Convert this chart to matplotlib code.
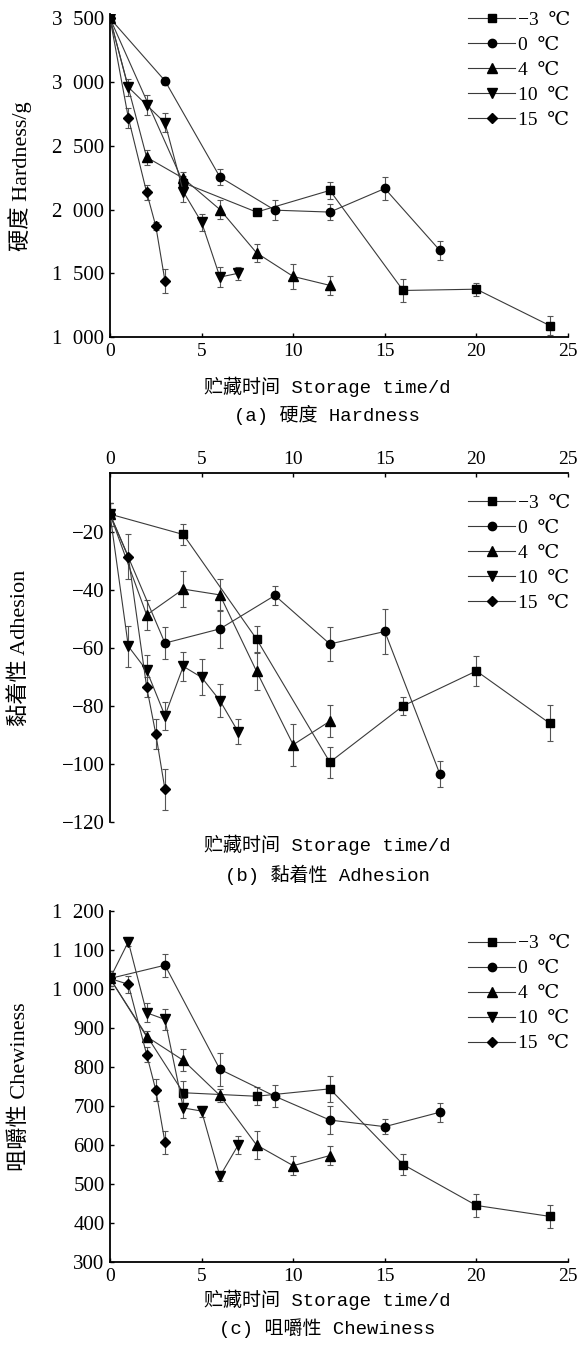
import matplotlib
matplotlib.use("Agg")
import matplotlib.pyplot as plt

# ---------------- data ----------------
temps = ["−3  ℃", "0  ℃", "4  ℃", "10  ℃", "15  ℃"]
markers = ["s", "o", "^", "v", "D"]
msizes = [5.5, 6.0, 6.5, 6.5, 5.0]

days_m3 = [0, 4, 8, 12, 16, 20, 24]
days_0 = [0, 3, 6, 9, 12, 15, 18]
days_4 = [0, 2, 4, 6, 8, 10, 12]
days_10 = [0, 1, 2, 3, 4, 5, 6, 7]
days_15 = [0, 1, 2, 2.5, 3]
days = [days_m3, days_0, days_4, days_10, days_15]

# (a) Hardness / g
hard_m3 = [3500, 2210, 1980, 2150, 1365, 1375, 1090]
hard_0 = [3500, 3010, 2255, 1995, 1980, 2165, 1680]
hard_4 = [3500, 2410, 2245, 2000, 1660, 1475, 1405]
hard_10 = [3500, 2960, 2820, 2680, 2140, 1900, 1470, 1500]
hard_15 = [3500, 2720, 2135, 1870, 1440]
hard_err_m3 = [25, 50, 15, 65, 88, 52, 75]
hard_err_0 = [25, 31, 60, 79, 65, 92, 73]
hard_err_4 = [25, 60, 47, 72, 68, 97, 76]
hard_err_10 = [25, 66, 76, 75, 80, 68, 80, 52]
hard_err_15 = [25, 79, 58, 33, 92]

# (b) Adhesion
adh_m3 = [-14, -21, -57, -99.4, -80, -68, -86]
adh_0 = [-14, -58.4, -53.5, -42, -58.7, -54.4, -103.4]
adh_4 = [-14, -48.7, -39.8, -41.8, -68.1, -93.4, -85.3]
adh_10 = [-14, -59.5, -67.8, -83.4, -66.4, -70.2, -78.2, -89]
adh_15 = [-14, -28.6, -73.5, -89.7, -108.8]
adh_err_m3 = [4, 3.5, 4.4, 5.3, 3, 5.2, 6.2]
adh_err_0 = [4, 5.6, 6.6, 3.4, 5.7, 7.8, 4.5]
adh_err_4 = [4, 5.2, 6.3, 5.5, 6.3, 7.3, 5.5]
adh_err_10 = [4, 7.1, 5.2, 4.8, 5.1, 6.2, 5.6, 4.3]
adh_err_15 = [4, 7.6, 3.3, 5.2, 7.1]

# (c) Chewiness
chew_m3 = [1027, 734, 725, 744, 550, 445, 417]
chew_0 = [1027, 1061, 794, 725, 664, 647, 684]
chew_4 = [1027, 878, 817, 727, 600, 547, 573]
chew_10 = [1027, 1121, 939, 922, 695, 687, 520, 600]
chew_15 = [1027, 1012, 832, 741, 607]
chew_err_m3 = [20, 30, 23, 34, 26, 30, 29]
chew_err_0 = [20, 30, 43, 28, 36, 19, 24]
chew_err_4 = [20, 15, 28, 17, 37, 24, 24]
chew_err_10 = [20, 12, 24, 27, 26, 14, 13, 22]
chew_err_15 = [20, 21, 20, 28, 30]

x_ticks = [0, 5, 10, 15, 20, 25]
hard_ticks = [1000, 1500, 2000, 2500, 3000, 3500]
hard_ticklabels = ["1\u2002000", "1\u2002500", "2\u2002000", "2\u2002500", "3\u2002000", "3\u2002500"]
adh_ticks = [-20, -40, -60, -80, -100, -120]
adh_ticklabels = ["−20", "−40", "−60", "−80", "−100", "−120"]
chew_ticks = [300, 400, 500, 600, 700, 800, 900, 1000, 1100, 1200]
chew_ticklabels = ["300", "400", "500", "600", "700", "800", "900",
                   "1\u2002000", "1\u2002100", "1\u2002200"]

xlabel_text = "贮藏时间 Storage time/d"
captions = ["(a) 硬度 Hardness", "(b) 黏着性 Adhesion", "(c) 咀嚼性 Chewiness"]
ylabels = ["硬度 Hardness/g", "黏着性 Adhesion", "咀嚼性 Chewiness"]

# ---------------- style ----------------
SERIF = ["Liberation Serif", "DejaVu Serif", "Noto Sans CJK SC"]
YLAB = ["Liberation Serif", "Noto Sans CJK SC"]
MONO = ["Liberation Mono", "Noto Sans CJK SC"]
plt.rcParams["font.family"] = SERIF

W, H = 584, 1351
fig = plt.figure(figsize=(W / 100, H / 100), dpi=100)

def axrect(left, right, top, bottom):
    return [left / W, 1 - bottom / H, (right - left) / W, (bottom - top) / H]

ax_a = fig.add_axes(axrect(110, 568, 14.5, 337))
ax_b = fig.add_axes(axrect(110, 568, 473.5, 822))
ax_c = fig.add_axes(axrect(110, 568, 911, 1262))

LINE_C = "#3a3a3a"
ERR_C = "#555555"

def draw(ax, ys, errs):
    handles = []
    for d, y, e, m, ms, lab in zip(days, ys, errs, markers, msizes, temps):
        ax.errorbar(d, y, yerr=e, fmt="none", ecolor=ERR_C, elinewidth=0.8,
                    capsize=2.5, capthick=0.8, zorder=2)
        ln, = ax.plot(d, y, color=LINE_C, lw=0.8, marker=m, ms=ms,
                      mfc="black", mec="black", label=lab, zorder=3)
        handles.append(ln)
    return handles

hA = draw(ax_a, [hard_m3, hard_0, hard_4, hard_10, hard_15],
          [hard_err_m3, hard_err_0, hard_err_4, hard_err_10, hard_err_15])
hB = draw(ax_b, [adh_m3, adh_0, adh_4, adh_10, adh_15],
          [adh_err_m3, adh_err_0, adh_err_4, adh_err_10, adh_err_15])
hC = draw(ax_c, [chew_m3, chew_0, chew_4, chew_10, chew_15],
          [chew_err_m3, chew_err_0, chew_err_4, chew_err_10, chew_err_15])

for ax in (ax_a, ax_b, ax_c):
    ax.set_xlim(0, 25)
    ax.set_xticks(x_ticks)
    ax.set_xticklabels([str(t) for t in x_ticks])
    ax.tick_params(direction="in", length=3, width=1.0, pad=4)
    ax.tick_params(axis="x", labelsize=14)
    ax.tick_params(axis="y", labelsize=15)
    for s in ax.spines.values():
        s.set_linewidth(1.3)
    ax.spines["right"].set_visible(False)
    ax.patch.set_alpha(0)

ax_a.set_ylim(1000, 3530)
ax_a.set_yticks(hard_ticks)
ax_a.set_yticklabels(hard_ticklabels)
ax_a.spines["top"].set_visible(False)

ax_b.set_ylim(-120, 0)
ax_b.set_yticks(adh_ticks)
ax_b.set_yticklabels(adh_ticklabels)
ax_b.spines["bottom"].set_visible(False)
ax_b.xaxis.tick_top()
ax_b.tick_params(axis="x", top=True, bottom=False, labeltop=True, labelbottom=False)

ax_c.set_ylim(300, 1200)
ax_c.set_yticks(chew_ticks)
ax_c.set_yticklabels(chew_ticklabels)
ax_c.spines["top"].set_visible(False)

for ax, lab in zip((ax_a, ax_b, ax_c), ylabels):
    ax.set_ylabel(lab, fontsize=16, family=YLAB)
    ax.yaxis.label.set_verticalalignment("center")
    ax.yaxis.set_label_coords(-0.1965, 0.5)

# legends
leg_kw = dict(frameon=False, fontsize=14, handlelength=2.4, handletextpad=0.15,
              labelspacing=0.38, borderaxespad=0.0, borderpad=0.0)
ax_a.legend(handles=hA, loc="upper right", bbox_to_anchor=(1.005, 1.01), **leg_kw)
ax_b.legend(handles=hB, loc="upper right", bbox_to_anchor=(1.005, 0.94), **leg_kw)
ax_c.legend(handles=hC, loc="upper right", bbox_to_anchor=(1.005, 0.932), **leg_kw)

# x labels and captions
def ftext(ypix, s):
    fig.text(327 / W, 1 - ypix / H, s, ha="center", va="center", fontsize=13.7, family=MONO)

ftext(387, xlabel_text)
ftext(415, captions[0])
ftext(845, xlabel_text)
ftext(875, captions[1])
ftext(1300, xlabel_text)
ftext(1328, captions[2])

fig.savefig("out.png", dpi=100, facecolor="white")
